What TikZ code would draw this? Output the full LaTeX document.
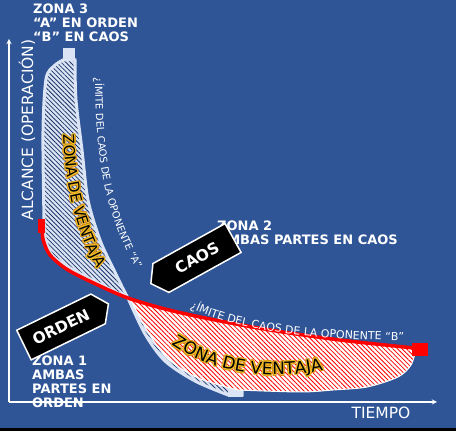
\documentclass[tikz,border=0pt]{standalone}
\usepackage{fontspec}
\setmainfont{DejaVu Sans}
\usetikzlibrary{arrows,shapes.symbols,patterns.meta,decorations.text}

\definecolor{slide}{RGB}{47,85,151}
\definecolor{band}{RGB}{218,228,244}
\definecolor{hatch}{RGB}{30,52,104}
\definecolor{glow}{RGB}{242,190,40}
\definecolor{glowedge}{RGB}{214,140,20}

\begin{document}
\begin{tikzpicture}[x=1pt, y=1pt,
        axis/.style={->, >=stealth, white, line width=1.3pt},
        zone/.style={anchor=north west, inner sep=0pt, align=left, text=white, font=\bfseries\fontsize{13}{14}\selectfont},
        axislabel/.style={text=white, inner sep=0pt, font=\fontsize{15.5}{18}\selectfont},
        tag/.style={signal, draw=white, line width=1.5pt, fill=black, text=white, minimum width=94pt, minimum height=33pt, inner sep=0pt, signal pointer angle=110, font=\bfseries\fontsize{15.5}{18}\selectfont},
        blueregion/.style={preaction={fill=band}, pattern={Lines[angle=-45, distance=3.2pt, line width=0.8pt]}, pattern color=hatch, draw=band, line width=3pt},
        redregion/.style={preaction={fill=white}, pattern={Lines[angle=-45, distance=3.2pt, line width=0.8pt]}, pattern color=red, draw=white, line width=1pt},
        limitline/.style={red, line width=3.5pt},
        limit/.style={decorate, decoration={text along path, text color=white, text align=left}},
        advantage/.style={decorate, decoration={text along path, text align=center}},
        upperzone/.style={decoration={text={|\fontsize{15}{17}\selectfont|ZONA DE VENTAJA}}},
        lowerzone/.style={decoration={text={|\fontsize{17}{19}\selectfont|ZONA DE VENTAJA}}}
    ]

    % Background
    \fill[slide] (0,0) rectangle (456,431);
    \fill[black] (0,0) rectangle (456,3);
    \useasboundingbox (0,0) rectangle (456,431);

    % Axes
    \coordinate (origin) at (9,29);
    \coordinate (ytop) at (9,392);
    \coordinate (xend) at (437,29);
    \draw[axis] (origin) -- (ytop);
    \draw[axis] (origin) -- (xend);
    \node[axislabel, rotate=90] (alcance) at (27,301) {ALCANCE (OPERACIÓN)};
    \node[axislabel] (tiempo) at (381,18) {TIEMPO};

    % Advantage zone of "A" (blue)
    \path[blueregion] (63,371) -- (75,371)
        -- plot[smooth] coordinates {(75,371) (76,331) (82,281) (88,231) (100,191) (113,163) (128,133) (148,102) (170,76) (202,54) (242,40)}
        -- (242,36) -- (228,36)
        -- plot[smooth] coordinates {(228,36) (195,50) (165,70) (145,97) (128,133)}
        -- plot[smooth] coordinates {(128,133) (100,147) (70,163) (52,176) (45,193) (44,212) (43,300) (46,352) (54,365) (63,371)}
        -- cycle;
    \fill[band] (63,371) rectangle (75,383);
    \fill[band] (228,34) rectangle (243,44);

    % Advantage zone of "B" (red)
    \path[redregion] plot[smooth] coordinates {(128,133) (165,122) (210,112) (270,101) (340,91) (416,82)}
        -- plot[smooth] coordinates {(416,82) (411,66) (398,54) (367,44) (333,41) (300,39) (238,41)}
        -- plot[smooth] coordinates {(238,41) (198,53) (168,72) (148,99) (130,133)}
        -- cycle;

    % Chaos limit of "B"
    \draw[limitline] plot[smooth] coordinates {(42,209) (43,192) (50,176) (68,161) (100,145) (128,133) (165,122) (210,112) (270,101) (340,91) (414,83)};
    \fill[red] (38,198) rectangle (45,212);
    \fill[red] (412,75) rectangle (428,88);

    % Limit labels
    \path[limit, decoration={text={|\fontsize{10}{12}\selectfont|¿ÍMITE DEL CAOS DE LA OPONENTE “A”}}]
        (95,353) .. controls (96,255) and (108,210) .. (144,148);
    \path[limit, decoration={text={|\fontsize{11}{13}\selectfont|¿ÍMITE DEL CAOS DE LA OPONENTE “B”}}]
        (190,123) .. controls (240,100) and (300,91) .. (432,90);

    % Advantage labels (glow, then text)
    \foreach \gx/\gy in {1.6/0, -1.6/0, 0/1.6, 0/-1.6, 1.1/1.1, -1.1/1.1, 1.1/-1.1, -1.1/-1.1} {
        \path[advantage, upperzone, decoration={text color=glowedge}, shift={(\gx,\gy)}] (63,304) .. controls (64,250) and (74,200) .. (101,156);
        \path[advantage, lowerzone, decoration={text color=glowedge}, shift={(\gx,\gy)}] (160,96) .. controls (200,60) and (270,45) .. (338,65);
    }
    \foreach \gx/\gy in {0.9/0, -0.9/0, 0/0.9, 0/-0.9, 0.65/0.65, -0.65/0.65, 0.65/-0.65, -0.65/-0.65} {
        \path[advantage, upperzone, decoration={text color=glow}, shift={(\gx,\gy)}] (63,304) .. controls (64,250) and (74,200) .. (101,156);
        \path[advantage, lowerzone, decoration={text color=glow}, shift={(\gx,\gy)}] (160,96) .. controls (200,60) and (270,45) .. (338,65);
    }
    \path[advantage, upperzone, decoration={text color=black}] (63,304) .. controls (64,250) and (74,200) .. (101,156);
    \path[advantage, lowerzone, decoration={text color=black}] (160,96) .. controls (200,60) and (270,45) .. (338,65);

    % Zones
    \node[zone] (zona3) at (33,427) {ZONA 3\\“A” EN ORDEN\\“B” EN CAOS};
    \node[zone] (zona2) at (217,210) {ZONA 2\\AMBAS PARTES EN CAOS};
    \node[zone] (zona1) at (32,75) {ZONA 1\\AMBAS\\PARTES EN\\ORDEN};

    % Tags
    \node[tag, signal to=west, rotate=29] (caos) at (197,173) {CAOS};
    \node[tag, signal to=east, rotate=26] (orden) at (61,104) {ORDEN};

\end{tikzpicture}
\end{document}
